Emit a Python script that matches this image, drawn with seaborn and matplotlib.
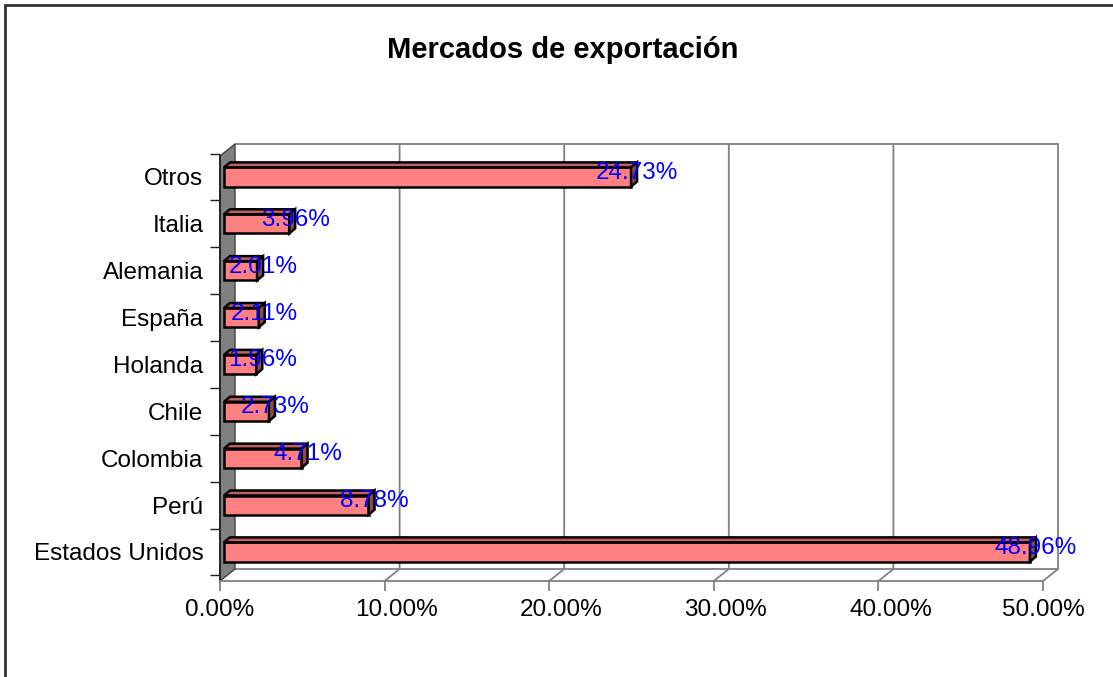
import numpy as np
import pandas as pd
import seaborn as sns
import matplotlib.pyplot as plt
from matplotlib.patches import Polygon, Rectangle
from matplotlib.ticker import PercentFormatter, FixedLocator
from matplotlib.transforms import ScaledTranslation

# data (top to bottom)
paises = ['Otros', 'Italia', 'Alemania', 'España', 'Holanda', 'Chile',
          'Colombia', 'Perú', 'Estados Unidos']
valores = [24.73, 3.96, 2.01, 2.11, 1.96, 2.73, 4.71, 8.78, 48.96]

df = pd.DataFrame({'pais': paises, 'valor': np.array(valores) / 100})

sns.set_style('white')
plt.rcParams['font.family'] = ['Liberation Sans', 'DejaVu Sans']
plt.rcParams['text.color'] = 'black'
plt.rcParams['xtick.labelcolor'] = 'black'
plt.rcParams['ytick.labelcolor'] = 'black'

W, H = 1113, 677
fig = plt.figure(figsize=(W / 100, H / 100), dpi=100)
# axes in pixel terms: x 220..1060, y 144..581 (from top)
ax = fig.add_axes([220 / W, 1 - 581 / H, 840 / W, 437 / H])

sns.barplot(data=df, x='valor', y='pais', order=paises, orient='h',
            color='#FF8080', saturation=1, edgecolor='black', linewidth=1.8,
            width=0.41, ax=ax, zorder=3)

# scale: 1646 px per unit on x, 46.875 px per category on y
px_x = 1 / 1646
px_y = 1 / 46.875
xmax = 840 * px_x
ybot, ytop = 8.619, -0.704
ax.set_xlim(0, xmax)
ax.set_ylim(ybot, ytop)

dxw, dyw = 15 * px_x, 12 * px_y   # wall depth
dxb, dyb = 6 * px_x, 5 * px_y     # bar depth
gris = '#808080'

# back wall + floor lines
for t in [0.1, 0.2, 0.3, 0.4, 0.5]:
    ax.plot([t, t + dxw, t + dxw], [ybot, ybot - dyw, ytop],
            color=gris, lw=1.3, zorder=0.5, clip_on=False)
ax.plot([dxw, 0.5 + dxw], [ybot - dyw, ybot - dyw], color=gris, lw=1.3,
        zorder=0.5, clip_on=False)
ax.plot([dxw, 0.5 + dxw], [ytop, ytop], color=gris, lw=1.3, zorder=0.5,
        clip_on=False)

# gray left wall
ax.add_patch(Polygon([(0, ytop + dyw), (dxw, ytop), (dxw, ybot - dyw), (0, ybot)],
                     closed=True, facecolor=gris, edgecolor='#404040', lw=1,
                     zorder=1, clip_on=False))

# bars sit a little inside the wall depth
shift = ax.transData + ScaledTranslation(4 / 100, 0, fig.dpi_scale_trans)

# 3D faces of the bars
for p in list(ax.patches):
    if not isinstance(p, Rectangle):
        continue
    p.set_transform(shift)
    p.set_clip_on(False)
    x0, w, y0, h = p.get_x(), p.get_width(), p.get_y(), p.get_height()
    top = [(x0, y0), (x0 + w, y0), (x0 + w + dxb, y0 - dyb), (x0 + dxb, y0 - dyb)]
    side = [(x0 + w, y0), (x0 + w + dxb, y0 - dyb), (x0 + w + dxb, y0 + h - dyb), (x0 + w, y0 + h)]
    ax.add_patch(Polygon(top, closed=True, facecolor='#C06060', edgecolor='black',
                         lw=1.8, zorder=3, clip_on=False, transform=shift))
    ax.add_patch(Polygon(side, closed=True, facecolor='#8B4A4A', edgecolor='black',
                         lw=1.8, zorder=3, clip_on=False, transform=shift))

# value labels
for i, v in enumerate(df['valor']):
    ax.annotate(f'{v * 100:.2f}%', xy=(v, i), xytext=(10, 4),
                textcoords='offset pixels', ha='center', va='center',
                color='blue', fontsize=17.5, zorder=5)

# axes styling
for s in ['top', 'right']:
    ax.spines[s].set_visible(False)
ax.spines['bottom'].set_bounds(0, 0.5)
ax.spines['bottom'].set_color(gris)
ax.spines['bottom'].set_linewidth(1.3)
ax.spines['left'].set_bounds(ytop + dyw, ybot)
ax.spines['left'].set_color('#202020')
ax.spines['left'].set_linewidth(1.3)

ax.set_xticks([0, 0.1, 0.2, 0.3, 0.4, 0.5])
ax.xaxis.set_major_formatter(PercentFormatter(xmax=1, decimals=2))
ax.tick_params(axis='x', direction='out', length=7, width=1.3, color=gris,
               labelsize=17.5, pad=6, bottom=True, labelcolor='black')
ax.yaxis.set_minor_locator(FixedLocator(np.arange(-0.5, 9, 1)))
ax.tick_params(axis='y', which='major', length=0, labelsize=17.5, pad=12,
               labelcolor='black')
ax.tick_params(axis='y', which='minor', direction='out', length=7, width=1,
               color='#202020', left=True)
ax.set_xlabel('')
ax.set_ylabel('')

# Excel puts the inner x labels under the back-wall gridlines
for lab in ax.get_xticklabels()[1:-1]:
    lab.set_transform(lab.get_transform() +
                      ScaledTranslation(12 / 100, 0, fig.dpi_scale_trans))

fig.text(563 / W, 1 - 50 / H, 'Mercados de exportación', ha='center',
         va='center', fontsize=21, fontweight='bold', color='black')

# outer frame (left and top edges visible)
fig.add_artist(Rectangle((5 / W, -0.1), 1.2, (H - 5) / H + 0.1,
                         transform=fig.transFigure, fill=False,
                         edgecolor='#333333', lw=2))

fig.savefig('out.png', dpi=100)
